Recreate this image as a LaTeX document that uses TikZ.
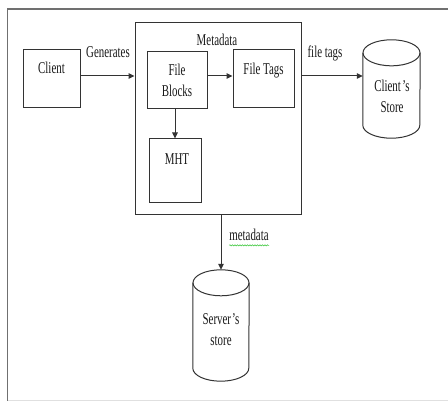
\documentclass[tikz,border=0pt]{standalone}
\usepackage{fontspec}
\setmainfont{Liberation Serif}[FakeStretch=0.66]
\usetikzlibrary{arrows.meta,decorations.pathmorphing}
\definecolor{ln}{HTML}{333333}
\definecolor{fr}{HTML}{707070}
\tikzset{
  box/.style={draw=ln, line width=1pt, inner sep=0pt, rectangle},
  ghost/.style={inner sep=0pt, rectangle},
  txt/.style={inner sep=0pt, font=\fontsize{16.5}{21}\selectfont, text=black!90, align=center},
  arr/.style={draw=ln, line width=1pt, -{Triangle[length=6pt,width=5.5pt]}},
  cyl/.style={draw=ln, line width=1pt},
  spell/.style={draw=green!55!gray, line width=0.5pt, decorate, decoration={snake, amplitude=0.6pt, segment length=2.5pt}}
}
\begin{document}
\begin{tikzpicture}[x=1pt,y=-1pt]
\useasboundingbox (0,0) rectangle (448,401);
\fill[white] (0,0) rectangle (448,401);
% outer frame
\draw[fr, line width=1.4pt] (7.5,402) -- (7.5,9) -- (449,9);
\draw[black!12, line width=0.8pt] (7.5,400) -- (449,400);

% boxes
\node[box, minimum width=57pt, minimum height=58pt] (client) at (51.5,79) {};
\node[box, minimum width=166pt, minimum height=192pt] (meta) at (218,119) {};
\node[box, minimum width=60pt, minimum height=57pt] (fb) at (177,80.5) {};
\node[box, minimum width=61pt, minimum height=58pt] (ft) at (263.5,79) {};
\node[box, minimum width=52pt, minimum height=64pt] (mht) at (175,171) {};

% cylinders
\node[ghost, minimum width=57pt, minimum height=98pt] (cs) at (391.5,89) {};
\node[ghost, minimum width=56pt, minimum height=111pt] (ss) at (221,325.5) {};
\foreach \c/\rx in {cs/28.5, ss/28} {
  \draw[cyl] ([yshift=-13pt]\c.north) ellipse [x radius=\rx pt, y radius=13pt];
  \draw[cyl] ([yshift=-13pt]\c.north west) -- ([yshift=13pt]\c.south west)
     arc[start angle=180, end angle=360, x radius=\rx pt, y radius=13pt]
     -- ([yshift=-13pt]\c.north east);
}

% texts
\node[txt, anchor=base] (tclient) at (51.5,73.5) {Client};
\node[txt, anchor=center] (tfb) at (177,80.4) {File\\Blocks};
\node[txt, anchor=base] (tft) at (263.5,75) {File Tags};
\node[txt, anchor=base] (tmht) at (177,165) {MHT};
\node[txt, anchor=base] (tmeta) at (217,46) {Metadata};
\node[txt, anchor=base] (tgen) at (108,57.5) {Generates};
\node[txt, anchor=base] (tftags) at (325,57.5) {file tags};
\node[txt, anchor=center] (tcs) at (392,96.4) {Client\kern1.5pt’s\\Store};
\node[txt, anchor=center] (tss) at (221,330) {Server\kern1pt’s\\store};
\node[txt, anchor=base] (tmd) at (249,241) {metadata};
\draw[spell] (tmd.south west) ++(0,4) -- ++(40,0);

% connectors
\draw[arr] (client.east |- 0,76) -- (meta.west |- 0,76);
\draw[arr] (fb.east |- 0,76) -- (ft.west |- 0,76);
\draw[arr] (fb.south -| mht.north) -- (mht.north);
\draw[arr] (meta.east |- 0,76) -- (cs.west |- 0,76);
\draw[arr] (meta.south -| ss.north) -- (ss.north);
\end{tikzpicture}
\end{document}
